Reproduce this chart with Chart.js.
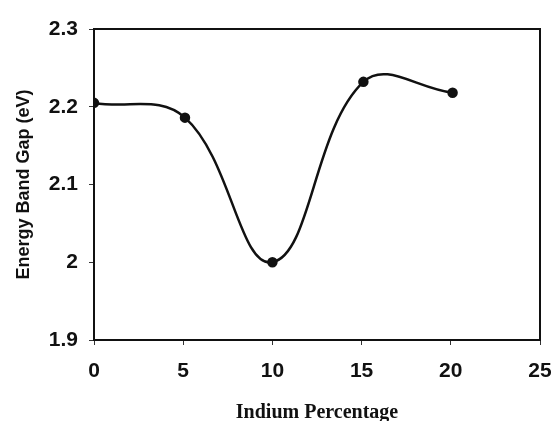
<!DOCTYPE html>
<html lang="en">
<head>
    <meta charset="UTF-8">
    <title>Energy Band Gap vs Indium Percentage</title>
    <script src="https://cdn.jsdelivr.net/npm/chart.js"></script>
    <style>
        html, body { margin: 0; padding: 0; background: #fff; }
        #wrap { position: relative; width: 551px; height: 421px; }
    </style>
</head>
<body>
    <div id="wrap">
        <canvas id="gapChart" width="551" height="421"></canvas>
    </div>

    <script>
        // values
        var indium = [0, 5.1, 10, 15.1, 20.1];
        var bandGap = [2.205, 2.186, 2.0, 2.232, 2.218];
        var xTicks = [0, 5, 10, 15, 20, 25];
        var yTicks = [1.9, 2, 2.1, 2.2, 2.3];

        var points = indium.map(function(x, i) { return { x: x, y: bandGap[i] }; });

        // box around the plot area, like the original
        var frame = {
            id: 'frame',
            afterDraw: function(chart) {
                var a = chart.chartArea, c = chart.ctx;
                c.save();
                c.strokeStyle = '#111';
                c.lineWidth = 2;
                c.strokeRect(a.left, a.top, a.right - a.left, a.bottom - a.top);
                c.restore();
            }
        };

        var ctx = document.getElementById('gapChart').getContext('2d');
        new Chart(ctx, {
            type: 'scatter',
            data: {
                datasets: [{
                    data: points,
                    showLine: true,
                    borderColor: '#111',
                    borderWidth: 2.5,
                    backgroundColor: '#111',
                    pointRadius: 4,
                    pointHoverRadius: 4,
                    tension: 0.4,
                    fill: false
                }]
            },
            options: {
                responsive: false,
                animation: false,
                events: [],
                layout: { padding: { top: 29, right: 11, left: 0, bottom: 0 } },
                plugins: { legend: { display: false }, tooltip: { enabled: false } },
                scales: {
                    x: {
                        type: 'linear',
                        min: 0,
                        max: 25,
                        afterBuildTicks: function(s) { s.ticks = xTicks.map(function(v) { return { value: v }; }); },
                        afterFit: function(s) { s.height = 81; s.paddingLeft = 0; s.paddingRight = 0; },
                        grid: { drawOnChartArea: false, color: '#333', tickLength: 5 },
                        border: { color: '#111', width: 2 },
                        ticks: {
                            color: '#111',
                            padding: 14,
                            maxRotation: 0,
                            callback: function(v) { return String(v); },
                            font: { family: 'Liberation Sans, Arial, sans-serif', size: 21, weight: 'bold' }
                        },
                        title: {
                            display: true,
                            text: 'Indium Percentage',
                            color: '#111',
                            padding: { top: 0, bottom: -4 },
                            font: { family: 'Liberation Serif, Times New Roman, serif', size: 20, weight: 'bold' }
                        }
                    },
                    y: {
                        min: 1.9,
                        max: 2.3,
                        afterBuildTicks: function(s) { s.ticks = yTicks.map(function(v) { return { value: v }; }); },
                        afterFit: function(s) { s.width = 94; s.paddingTop = 0; s.paddingBottom = 0; },
                        grid: { drawOnChartArea: false, color: '#333', tickLength: 5 },
                        border: { color: '#111', width: 2 },
                        ticks: {
                            color: '#111',
                            padding: 11,
                            callback: function(v) { return String(v); },
                            font: { family: 'Liberation Sans, Arial, sans-serif', size: 21, weight: 'bold' }
                        },
                        title: {
                            display: true,
                            text: 'Energy Band Gap (eV)',
                            color: '#111',
                            padding: { top: 13, bottom: 0 },
                            font: { family: 'Liberation Sans, Arial, sans-serif', size: 18, weight: 'bold' }
                        }
                    }
                }
            },
            plugins: [frame]
        });
    </script>
</body>
</html>
